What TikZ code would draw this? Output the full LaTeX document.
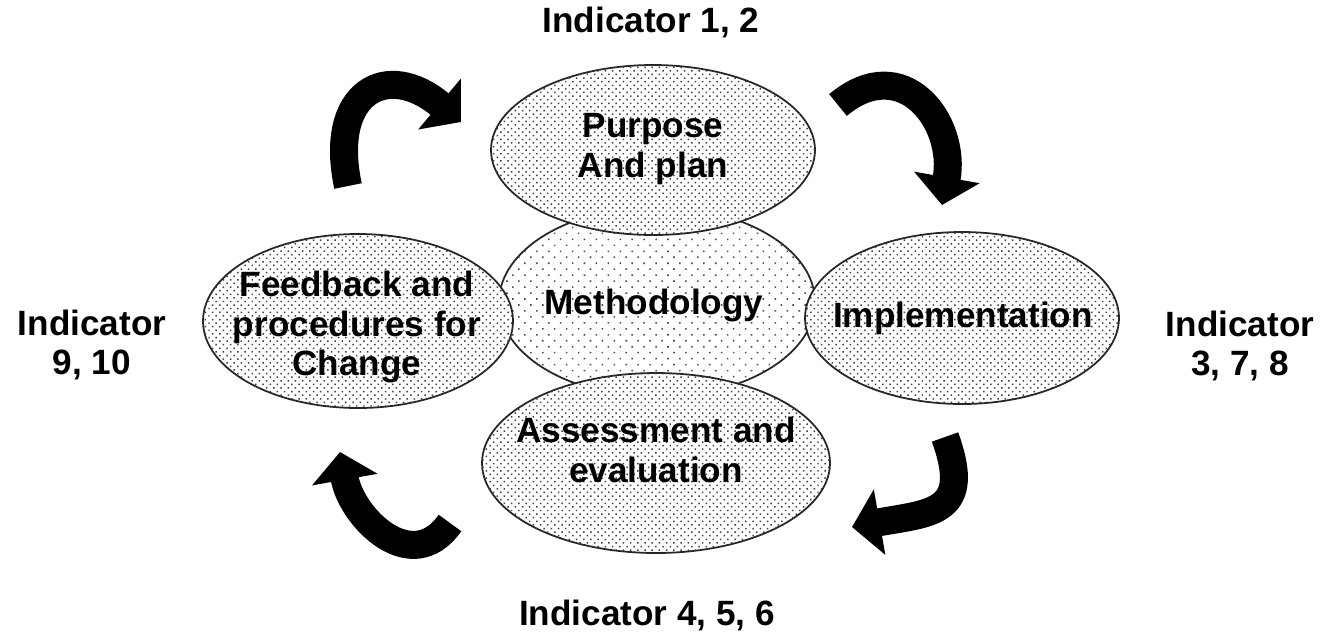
\documentclass[tikz,border=0pt]{standalone}
\usepackage{fontspec}
\setmainfont{Liberation Sans}
\usepackage{tikz}
\usetikzlibrary{shapes.geometric,arrows.meta,patterns.meta}

\begin{document}
\begin{tikzpicture}[
    x=0.1mm, y=0.1mm,
    blob/.style={ellipse, draw=black!85, line width=0.5pt, fill=white,
        postaction={pattern={Dots[distance=1.45pt, radius=0.3pt, angle=45]}, pattern color=black!75}},
    core/.style={ellipse, draw=black!85, line width=0.5pt, fill=white,
        postaction={pattern={Dots[distance=2.4pt, radius=0.32pt, angle=45]}, pattern color=black!70}},
    caption/.style={font=\bfseries\fontsize{10}{11.3}\selectfont, align=center, inner sep=0pt},
    cyclearrow/.style={line width=2.8mm, -{Triangle[length=2.8mm, width=6.5mm]}}
]
    \useasboundingbox (0,0) rectangle (1321,633);

    % Central ellipse first, the four stages overlap it
    \node[core, minimum width=31.6mm, minimum height=19mm] (method) at (657,331) {};
    \node[blob, minimum width=32.4mm, minimum height=17mm] (purpose) at (653,483) {};
    \node[blob, minimum width=31mm, minimum height=17.4mm] (feedback) at (358,312) {};
    \node[blob, minimum width=31.4mm, minimum height=17.2mm] (impl) at (962,315) {};
    \node[blob, minimum width=34.8mm, minimum height=18mm] (assess) at (656,170) {};

    % Stage texts
    \node[caption] (method-txt) at (654,328) {Methodology};
    \node[caption] (purpose-txt) at (653,484) {Purpose\\And plan};
    \node[caption] (feedback-txt) at (357,306) {Feedback and\\procedures for\\Change};
    \node[caption] (impl-txt) at (963,315) {Implementation};
    \node[caption] (assess-txt) at (656,183) {Assessment and\\evaluation};

    % Indicators
    \node[caption] (ind-top) at (651,611) {Indicator 1, 2};
    \node[caption] (ind-left) at (92,288) {Indicator\\9, 10};
    \node[caption] (ind-right) at (1240,287) {Indicator\\3, 7, 8};
    \node[caption] (ind-bottom) at (647,18) {Indicator 4, 5, 6};

    % Cycle arrows
    \coordinate (tl-s) at (348,447);
    \coordinate (tl-e) at (461,511);
    \coordinate (tr-s) at (838,528);
    \coordinate (tr-e) at (942,428);
    \coordinate (br-s) at (945,196);
    \coordinate (br-e) at (852,106);
    \coordinate (bl-s) at (450,110);
    \coordinate (bl-e) at (340,181);
    \draw[cyclearrow] (tl-s) to[out=102, in=140, looseness=1.9] (tl-e);
    \draw[cyclearrow] (tr-s) to[out=40, in=80, looseness=1.5] (tr-e);
    \draw[cyclearrow] (br-s) to[out=-70, in=10, looseness=1.6] (br-e);
    \draw[cyclearrow] (bl-s) to[out=235, in=-80, looseness=1.3] (bl-e);
\end{tikzpicture}
\end{document}
